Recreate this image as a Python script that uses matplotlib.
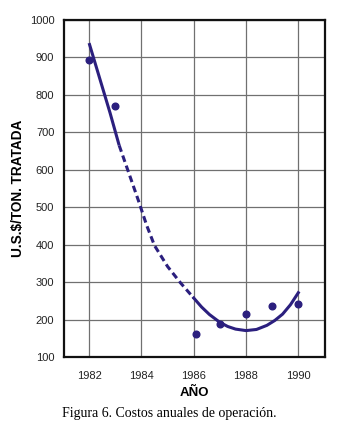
import numpy as np
import matplotlib
matplotlib.use("Agg")
import matplotlib.pyplot as plt

matplotlib.rcParams['font.family'] = ['Liberation Sans', 'DejaVu Sans']

# datos observados
anios = [1982, 1983, 1986.1, 1987, 1988, 1989, 1990]
costos = [893, 770, 162, 188, 215, 237, 242]

# curva ajustada
curva1_x = [1982.0, 1982.4, 1982.8, 1983.15]
curva1_y = [938, 845, 752, 665]
curva2_x = [1983.15, 1983.5, 1983.88, 1984.2, 1984.5, 1985.0, 1985.5, 1986.0]
curva2_y = [665, 595, 519, 452, 398, 342, 298, 258]
curva3_x = [1986.0, 1986.3, 1986.6, 1987.0, 1987.3, 1987.6, 1988.0,
            1988.4, 1988.8, 1989.1, 1989.4, 1989.7, 1990.0]
curva3_y = [258, 234, 214, 193, 182, 175, 171,
            174, 185, 198, 215, 240, 272]

xticks = [1982, 1984, 1986, 1988, 1990]
yticks = list(range(100, 1001, 100))

col = '#2b1f7e'

fig = plt.figure(figsize=(3.46, 4.41), dpi=100, facecolor='white')
ax = fig.add_axes([0.185, 0.19, 0.755, 0.765])

ax.plot(curva1_x, curva1_y, color=col, lw=2.2, solid_capstyle='butt')
ax.plot(curva2_x, curva2_y, color=col, lw=2.2, ls=(0, (2.2, 1.3)))
ax.plot(curva3_x, curva3_y, color=col, lw=2.2)
ax.plot(anios, costos, 'o', color=col, ms=4.8, zorder=5)

ax.set_xlim(1981.04, 1991.03)
ax.set_ylim(100, 1000)
ax.set_xticks(xticks)
ax.set_yticks(yticks)
ax.tick_params(length=0, labelsize=8, colors='#222222', pad=7)
ax.tick_params(axis='x', pad=10)
ax.grid(True, color='#707070', lw=0.9)
ax.set_axisbelow(True)
for s in ax.spines.values():
    s.set_linewidth(1.6)
    s.set_color('#111111')

ax.set_xlabel('AÑO', fontsize=9.5, fontweight='bold', labelpad=4)
ax.set_ylabel('U.S.$/TON. TRATADA', fontsize=9.8, fontweight='bold', labelpad=3)

fig.text(0.49, 0.063, 'Figura 6. Costos anuales de operación.',
         ha='center', va='center', fontsize=10, family='Liberation Serif')

fig.savefig('out.png', dpi=100, facecolor='white')
